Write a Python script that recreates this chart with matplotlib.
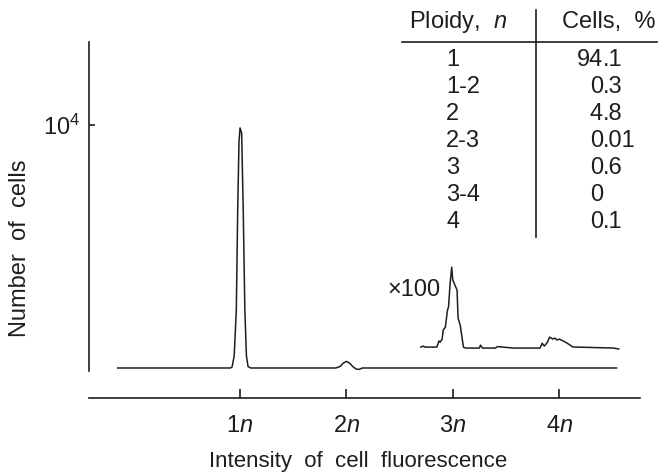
import matplotlib.pyplot as plt
import numpy as np

plt.rcParams['font.family'] = ['Liberation Sans', 'DejaVu Sans']
plt.rcParams['mathtext.fontset'] = 'custom'
plt.rcParams['mathtext.rm'] = 'Liberation Sans'
plt.rcParams['mathtext.it'] = 'Liberation Sans:italic'

# main histogram trace (x in units of n, y = number of cells)
main_x = [-0.15, 0.5, 0.91, 0.925, 0.945, 0.965, 0.978, 0.99, 1.0, 1.015, 1.03, 1.045, 1.06,
          1.075, 1.1, 1.6, 1.9, 1.94, 1.97, 2.0, 2.03, 2.06, 2.09, 2.12, 2.15, 3.0, 4.54]
main_y = [0, 0, 0, 40, 500, 2400, 6500, 9300, 9880, 9670, 6500, 2400, 500,
          60, 0, 0, 0, 60, 200, 270, 200, 60, -40, -60, 0, 0, 0]

# x100 magnified trace (3n and 4n region)
zoom_x = [2.70, 2.72, 2.74, 2.85, 2.87, 2.88, 2.90, 2.91, 2.93, 2.95, 2.96, 2.975, 2.99, 3.00,
          3.02, 3.04, 3.05, 3.07, 3.10, 3.12, 3.25, 3.26, 3.28, 3.40, 3.42, 3.57, 3.82,
          3.84, 3.86, 3.89, 3.91, 3.94, 3.96, 3.98, 4.00, 4.02, 4.06, 4.09, 4.13, 4.17, 4.51, 4.56]
zoom_y = [0, 40, 0, 0, 250, 200, 330, 700, 820, 1520, 1650, 2630, 3290, 2760,
          2550, 2350, 1190, 900, 0, -40, -40, 80, -40, -40, 20, -40, -40,
          160, 40, 200, 410, 330, 370, 290, 330, 290, 200, 120, 0, 0, -40, -80]
zoom_offset = 860

ploidy = ['1', '1-2', '2', '2-3', '3', '3-4', '4']
cells_pct = ['94.1', '0.3', '4.8', '0.01', '0.6', '0', '0.1']

xticks = [1, 2, 3, 4]
xtick_labels = ['1$\\mathit{n}$', '2$\\mathit{n}$', '3$\\mathit{n}$', '4$\\mathit{n}$']

ink = '#1e1e1e'
fs = 17

W, H = 667, 475
fig = plt.figure(figsize=(W / 100, H / 100), dpi=100)
ax = fig.add_axes([89 / W, 1 - 398 / H, (640 - 89) / W, (398 - 42) / H])

ax.plot(main_x, main_y, color=ink, lw=1.1)
ax.plot(zoom_x, np.array(zoom_y) + zoom_offset, color=ink, lw=1.1)

ax.set_xlim(-0.42, 4.76)
ax.set_ylim(-1235, 13415)

for s in ['top', 'right']:
    ax.spines[s].set_visible(False)
ax.spines['left'].set_bounds(-123, 13415)
for s in ['left', 'bottom']:
    ax.spines[s].set_linewidth(1.2)
    ax.spines[s].set_color(ink)

ax.set_xticks(xticks)
ax.set_xticklabels(xtick_labels, fontsize=fs, color=ink)
ax.set_yticks([10000])
ax.set_yticklabels(['$10^4$'], fontsize=fs, color=ink)
ax.tick_params(axis='x', direction='in', length=6.5, width=1.2, pad=12.5, colors=ink)
ax.tick_params(axis='y', direction='in', length=4.3, width=1.2, pad=6, colors=ink)

def fx(px):
    return px / W

def fy(py):
    return 1 - py / H

fig.text(fx(20), fy(248), 'Number  of  cells', rotation=90, fontsize=fs,
         ha='center', va='center', color=ink)
fig.text(fx(358), fy(461), 'Intensity  of  cell  fluorescence', fontsize=16,
         ha='center', va='center', color=ink)
fig.text(fx(387), fy(290), '\u00d7100', fontsize=fs, ha='left', va='center', color=ink)

# table
fig.text(fx(409), fy(22), 'Ploidy,  $\\mathit{n}$', fontsize=fs, ha='left', va='center', color=ink)
fig.text(fx(656), fy(22), 'Cells,  %', fontsize=fs, ha='right', va='center', color=ink)
fig.add_artist(plt.Line2D([fx(402), fx(657)], [fy(42), fy(42)], color=ink, lw=1.2))
fig.add_artist(plt.Line2D([fx(536), fx(536)], [fy(10), fy(237)], color=ink, lw=1.2))
dec_x = 603
for i, (p, c) in enumerate(zip(ploidy, cells_pct)):
    y = fy(60 + 27 * i)
    fig.text(fx(446), y, p, fontsize=fs, ha='left', va='center', color=ink)
    whole, _, frac = c.partition('.')
    fig.text(fx(dec_x), y, whole, fontsize=fs, ha='right', va='center', color=ink)
    if frac:
        fig.text(fx(dec_x), y, '.' + frac, fontsize=fs, ha='left', va='center', color=ink)

fig.savefig('out.png', dpi=100)
